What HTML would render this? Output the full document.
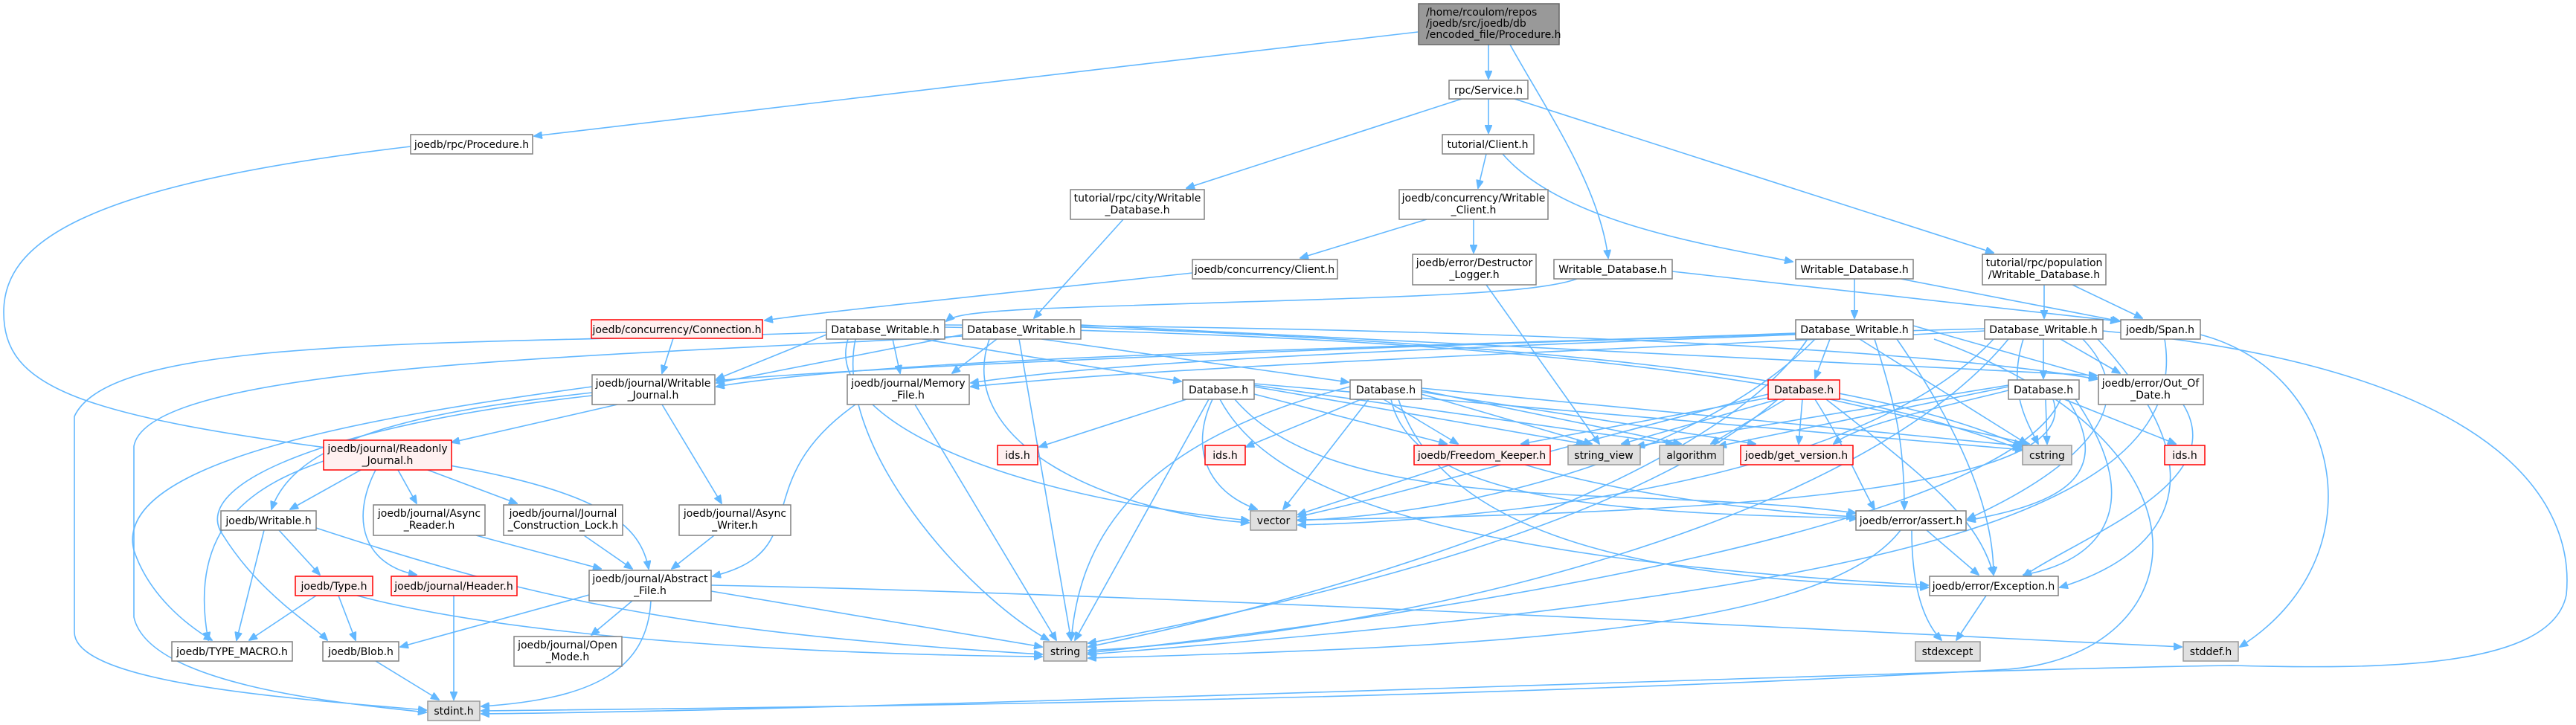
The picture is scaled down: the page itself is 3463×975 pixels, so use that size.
<!DOCTYPE html>
<html><head><meta charset="utf-8"><style>
html,body{margin:0;padding:0;background:#fff}
svg{display:block}
text{font-family:"DejaVu Sans","Liberation Sans",sans-serif;font-size:14px;fill:#000}
.n rect{fill:#fff;stroke:#808080;stroke-width:1.5}
.g rect{fill:#e0e0e0;stroke:#999;stroke-width:1.5}
.r rect{fill:#fff0f0;stroke:#ff0000;stroke-width:1.5}
.t rect{fill:#999;stroke:#666;stroke-width:1.5}
path{fill:none;stroke:#63b8ff;stroke-width:1.6}
</style></head><body>
<svg width="3463" height="975" viewBox="0 0 3463 975" xmlns="http://www.w3.org/2000/svg">
<defs><marker id="a" markerWidth="12" markerHeight="10" refX="11" refY="5" orient="auto" markerUnits="userSpaceOnUse"><path d="M0,0 L12,5 L0,10 Z" style="fill:#63b8ff;stroke:#63b8ff;stroke-width:1"/></marker></defs>
<g marker-end="url(#a)">
<path d="M1906,43 C1500,90 1000,150 718,183"/>
<path d="M2001,60 L2001,106"/>
<path d="M2030,60 C2080,150 2150,250 2162,347"/>
<path d="M552,197 C100,250 5,330 5,420 C5,520 100,560 500,610 C800,650 860,700 872,765"/>
<path d="M1965,133 L1595,253"/>
<path d="M2001,133 L2001,179"/>
<path d="M2036,133 L2680,340"/>
<path d="M1998,207 L1987,253"/>
<path d="M2020,207 C2100,300 2300,330 2410,352"/>
<path d="M1918,295 L1748,347"/>
<path d="M1981,295 L1981,340"/>
<path d="M1603,367 C1300,400 1100,420 1028,431"/>
<path d="M1998,383 L2150,597"/>
<path d="M2120,375 C2050,400 1800,400 1400,415 C1300,420 1280,425 1272,432"/>
<path d="M2248,365 L2848,432"/>
<path d="M1510,295 L1390,428"/>
<path d="M2493,375 L2493,428"/>
<path d="M2555,375 L2850,432"/>
<path d="M2748,383 L2748,428"/>
<path d="M2786,383 L2880,428"/>
<path d="M905,455 L890,502"/>
<path d="M1111,450 L963,510"/>
<path d="M1200,456 L1210,502"/>
<path d="M1240,456 L1588,513"/>
<path d="M1150,456 C1120,600 1300,800 1410,861"/>
<path d="M1140,456 C1110,550 1300,660 1679,700"/>
<path d="M1111,447 C600,465 150,450 100,560 L100,850 C100,920 400,940 573,955"/>
<path d="M1270,440 C1800,450 2400,480 2717,605"/>
<path d="M1270,437 C2000,440 2600,470 2819,510"/>
<path d="M1294,450 L963,515"/>
<path d="M1340,456 L1280,502"/>
<path d="M1400,456 L1813,514"/>
<path d="M1370,456 L1440,861"/>
<path d="M1330,456 C1280,600 1500,690 1679,703"/>
<path d="M1294,452 C800,480 200,490 180,600 L180,830 C200,920 450,945 573,958"/>
<path d="M1453,440 C2000,460 2500,500 2717,600"/>
<path d="M1453,437 L2819,505"/>
<path d="M2460,456 L2440,509"/>
<path d="M2414,448 C1800,470 1200,480 963,520"/>
<path d="M2414,450 C1900,470 1500,485 1305,515"/>
<path d="M2430,456 C2300,650 1800,800 1463,870"/>
<path d="M2440,456 C2300,600 2000,690 1745,700"/>
<path d="M2500,456 L2725,597"/>
<path d="M2520,456 C2550,550 2560,600 2560,685"/>
<path d="M2550,456 C2650,600 2680,700 2680,773"/>
<path d="M2572,438 L2819,508"/>
<path d="M2600,456 C3000,600 2950,880 2700,900 C2000,940 1200,950 647,956"/>
<path d="M2747,456 L2747,509"/>
<path d="M2770,456 L2850,502"/>
<path d="M2668,442 C2000,460 1200,490 963,512"/>
<path d="M2668,445 C2200,470 1600,490 1305,520"/>
<path d="M2720,456 C2700,520 2720,560 2740,597"/>
<path d="M2700,456 C2500,700 1900,850 1463,875"/>
<path d="M2680,456 C2500,650 2000,700 1745,706"/>
<path d="M2827,445 C3400,500 3460,700 3450,800 C3430,900 3200,900 3000,895 C2600,900 1200,955 647,960"/>
<path d="M2800,456 C2900,560 2750,650 2645,698"/>
<path d="M2820,456 C3000,650 2900,750 2769,790"/>
<path d="M2958,450 C3150,500 3200,750 3011,870"/>
<path d="M2910,456 C2950,700 2500,800 1463,880"/>
<path d="M830,544 L607,595"/>
<path d="M796,528 C600,550 400,580 365,685"/>
<path d="M890,544 L970,677"/>
<path d="M796,520 C500,560 150,620 180,740 C200,800 250,840 285,861"/>
<path d="M796,532 C450,570 250,650 300,720 C350,800 420,840 440,861"/>
<path d="M1150,544 C1000,650 1100,740 958,775"/>
<path d="M1230,544 L1420,861"/>
<path d="M485,632 L390,685"/>
<path d="M535,632 L560,677"/>
<path d="M575,632 L695,677"/>
<path d="M505,632 C470,700 490,760 560,773"/>
<path d="M435,620 C350,650 250,700 280,861"/>
<path d="M375,713 L430,773"/>
<path d="M355,713 L318,861"/>
<path d="M425,710 C700,800 900,850 1401,880"/>
<path d="M425,801 L335,861"/>
<path d="M455,801 L478,861"/>
<path d="M480,801 C700,860 1100,880 1401,883"/>
<path d="M610,801 L610,941"/>
<path d="M640,720 L808,765"/>
<path d="M785,720 L850,765"/>
<path d="M960,720 L903,765"/>
<path d="M792,800 L538,870"/>
<path d="M850,808 L795,854"/>
<path d="M875,808 C870,900 800,940 647,950"/>
<path d="M956,795 L1401,870"/>
<path d="M956,787 C1600,800 2500,850 2933,870"/>
<path d="M505,889 L590,941"/>
<path d="M1595,537 L1397,601"/>
<path d="M1630,537 C1600,600 1620,660 1690,685"/>
<path d="M1625,537 L1445,861"/>
<path d="M1686,530 L1945,597"/>
<path d="M1686,520 L2130,597"/>
<path d="M1686,518 L2250,597"/>
<path d="M1686,516 L2720,605"/>
<path d="M1660,537 C1800,700 2200,650 2495,690"/>
<path d="M1640,537 C1700,650 1900,750 2592,787"/>
<path d="M1830,537 L1675,601"/>
<path d="M1840,537 L1725,685"/>
<path d="M1815,520 C1500,600 1450,750 1440,861"/>
<path d="M1860,537 L1960,597"/>
<path d="M1911,530 L2140,597"/>
<path d="M1911,525 L2260,597"/>
<path d="M1911,522 L2722,600"/>
<path d="M1911,527 L2360,597"/>
<path d="M1870,537 C1900,680 2200,690 2497,697"/>
<path d="M1880,537 C1950,750 2300,780 2592,790"/>
<path d="M2390,537 L2180,597"/>
<path d="M2400,537 L2300,597"/>
<path d="M2423,537 L2418,597"/>
<path d="M2460,537 L2728,597"/>
<path d="M2377,530 C2100,600 1900,660 1745,695"/>
<path d="M2390,537 C2200,700 1800,800 1463,865"/>
<path d="M2377,535 L2045,597"/>
<path d="M2440,537 C2480,600 2500,650 2520,685"/>
<path d="M2455,537 C2600,650 2660,700 2680,773"/>
<path d="M2750,537 L2752,597"/>
<path d="M2775,537 L2925,597"/>
<path d="M2700,525 C2600,550 2500,570 2465,597"/>
<path d="M2700,520 L2310,600"/>
<path d="M2700,518 L2200,600"/>
<path d="M2780,537 C2850,650 2750,680 2645,700"/>
<path d="M2790,537 C2900,700 2800,760 2720,773"/>
<path d="M2760,537 C2800,650 2400,690 1745,699"/>
<path d="M2770,537 C2700,700 2000,820 1463,878"/>
<path d="M1950,625 L1745,692"/>
<path d="M2050,625 C2200,670 2400,690 2493,695"/>
<path d="M2935,544 C3000,650 2800,720 2720,775"/>
<path d="M2590,713 L2660,773"/>
<path d="M2570,713 C2570,800 2590,840 2610,861"/>
<path d="M2555,713 C2450,850 2000,870 1463,885"/>
<path d="M2670,801 L2630,861"/>
</g>

<g class="t"><rect x="1907" y="5" width="189" height="55"/><text x="1917" y="21">/home/rcoulom/repos</text><text x="1917" y="36">/joedb/src/joedb/db</text><text x="1917" y="51">/encoded_file/Procedure.h</text></g>

<g class="n" text-anchor="middle">
<rect x="552" y="181" width="164" height="26"/><text x="634" y="199">joedb/rpc/Procedure.h</text>
<rect x="1948" y="108" width="106" height="25"/><text x="2001" y="126">rpc/Service.h</text>
<rect x="1939" y="181" width="123" height="26"/><text x="2000" y="199">tutorial/Client.h</text>
<rect x="1439" y="255" width="180" height="40"/><text x="1529" y="271">tutorial/rpc/city/Writable</text><text x="1529" y="287">_Database.h</text>
<rect x="1881" y="255" width="200" height="40"/><text x="1981" y="271">joedb/concurrency/Writable</text><text x="1981" y="287">_Client.h</text>
<rect x="1603" y="349" width="195" height="26"/><text x="1700" y="367">joedb/concurrency/Client.h</text>
<rect x="1899" y="342" width="166" height="41"/><text x="1982" y="358">joedb/error/Destructor</text><text x="1982" y="374">_Logger.h</text>
<rect x="2089" y="349" width="159" height="26"/><text x="2168" y="367">Writable_Database.h</text>
<rect x="2414" y="349" width="158" height="26"/><text x="2493" y="367">Writable_Database.h</text>
<rect x="2665" y="342" width="166" height="41"/><text x="2748" y="358">tutorial/rpc/population</text><text x="2748" y="374">/Writable_Database.h</text>
<rect x="1111" y="430" width="159" height="26"/><text x="1190" y="448">Database_Writable.h</text>
<rect x="1294" y="430" width="159" height="26"/><text x="1373" y="448">Database_Writable.h</text>
<rect x="2414" y="430" width="158" height="26"/><text x="2493" y="448">Database_Writable.h</text>
<rect x="2668" y="430" width="159" height="26"/><text x="2747" y="448">Database_Writable.h</text>
<rect x="2851" y="430" width="107" height="26"/><text x="2904" y="448">joedb/Span.h</text>
<rect x="796" y="504" width="165" height="40"/><text x="878" y="520">joedb/journal/Writable</text><text x="878" y="536">_Journal.h</text>
<rect x="1139" y="504" width="164" height="40"/><text x="1221" y="520">joedb/journal/Memory</text><text x="1221" y="536">_File.h</text>
<rect x="1590" y="511" width="96" height="26"/><text x="1638" y="529">Database.h</text>
<rect x="1815" y="511" width="96" height="26"/><text x="1863" y="529">Database.h</text>
<rect x="2700" y="511" width="95" height="26"/><text x="2747" y="529">Database.h</text>
<rect x="2821" y="504" width="141" height="40"/><text x="2891" y="520">joedb/error/Out_Of</text><text x="2891" y="536">_Date.h</text>
<rect x="297" y="687" width="128" height="26"/><text x="361" y="705">joedb/Writable.h</text>
<rect x="502" y="679" width="150" height="41"/><text x="577" y="695">joedb/journal/Async</text><text x="577" y="711">_Reader.h</text>
<rect x="677" y="679" width="160" height="41"/><text x="757" y="695">joedb/journal/Journal</text><text x="757" y="711">_Construction_Lock.h</text>
<rect x="913" y="679" width="150" height="41"/><text x="988" y="695">joedb/journal/Async</text><text x="988" y="711">_Writer.h</text>
<rect x="2495" y="687" width="148" height="26"/><text x="2569" y="705">joedb/error/assert.h</text>
<rect x="792" y="767" width="164" height="41"/><text x="874" y="783">joedb/journal/Abstract</text><text x="874" y="799">_File.h</text>
<rect x="2594" y="775" width="173" height="26"/><text x="2680" y="793">joedb/error/Exception.h</text>
<rect x="231" y="863" width="162" height="26"/><text x="312" y="881">joedb/TYPE_MACRO.h</text>
<rect x="434" y="863" width="102" height="26"/><text x="485" y="881">joedb/Blob.h</text>
<rect x="691" y="856" width="145" height="40"/><text x="763" y="872">joedb/journal/Open</text><text x="763" y="888">_Mode.h</text>
</g>

<g class="r" text-anchor="middle">
<rect x="795" y="430" width="230" height="25"/><text x="910" y="448">joedb/concurrency/Connection.h</text>
<rect x="2377" y="511" width="96" height="26"/><text x="2425" y="529">Database.h</text>
<rect x="435" y="592" width="172" height="40"/><text x="521" y="608">joedb/journal/Readonly</text><text x="521" y="624">_Journal.h</text>
<rect x="1341" y="599" width="54" height="26"/><text x="1368" y="617">ids.h</text>
<rect x="1620" y="599" width="54" height="26"/><text x="1647" y="617">ids.h</text>
<rect x="1901" y="599" width="183" height="26"/><text x="1992" y="617">joedb/Freedom_Keeper.h</text>
<rect x="2340" y="599" width="151" height="26"/><text x="2415" y="617">joedb/get_version.h</text>
<rect x="2910" y="599" width="54" height="26"/><text x="2937" y="617">ids.h</text>
<rect x="397" y="775" width="104" height="26"/><text x="449" y="793">joedb/Type.h</text>
<rect x="526" y="775" width="169" height="26"/><text x="610" y="793">joedb/journal/Header.h</text>
</g>

<g class="g" text-anchor="middle">
<rect x="2108" y="599" width="97" height="26"/><text x="2156" y="617">string_view</text>
<rect x="2231" y="599" width="86" height="26"/><text x="2274" y="617">algorithm</text>
<rect x="2719" y="599" width="66" height="26"/><text x="2752" y="617">cstring</text>
<rect x="1681" y="687" width="62" height="26"/><text x="1712" y="705">vector</text>
<rect x="1403" y="863" width="58" height="26"/><text x="1432" y="881">string</text>
<rect x="2575" y="863" width="87" height="26"/><text x="2618" y="881">stdexcept</text>
<rect x="2935" y="863" width="74" height="26"/><text x="2972" y="881">stddef.h</text>
<rect x="575" y="943" width="70" height="26"/><text x="610" y="961">stdint.h</text>
</g>
</svg>
</body></html>
